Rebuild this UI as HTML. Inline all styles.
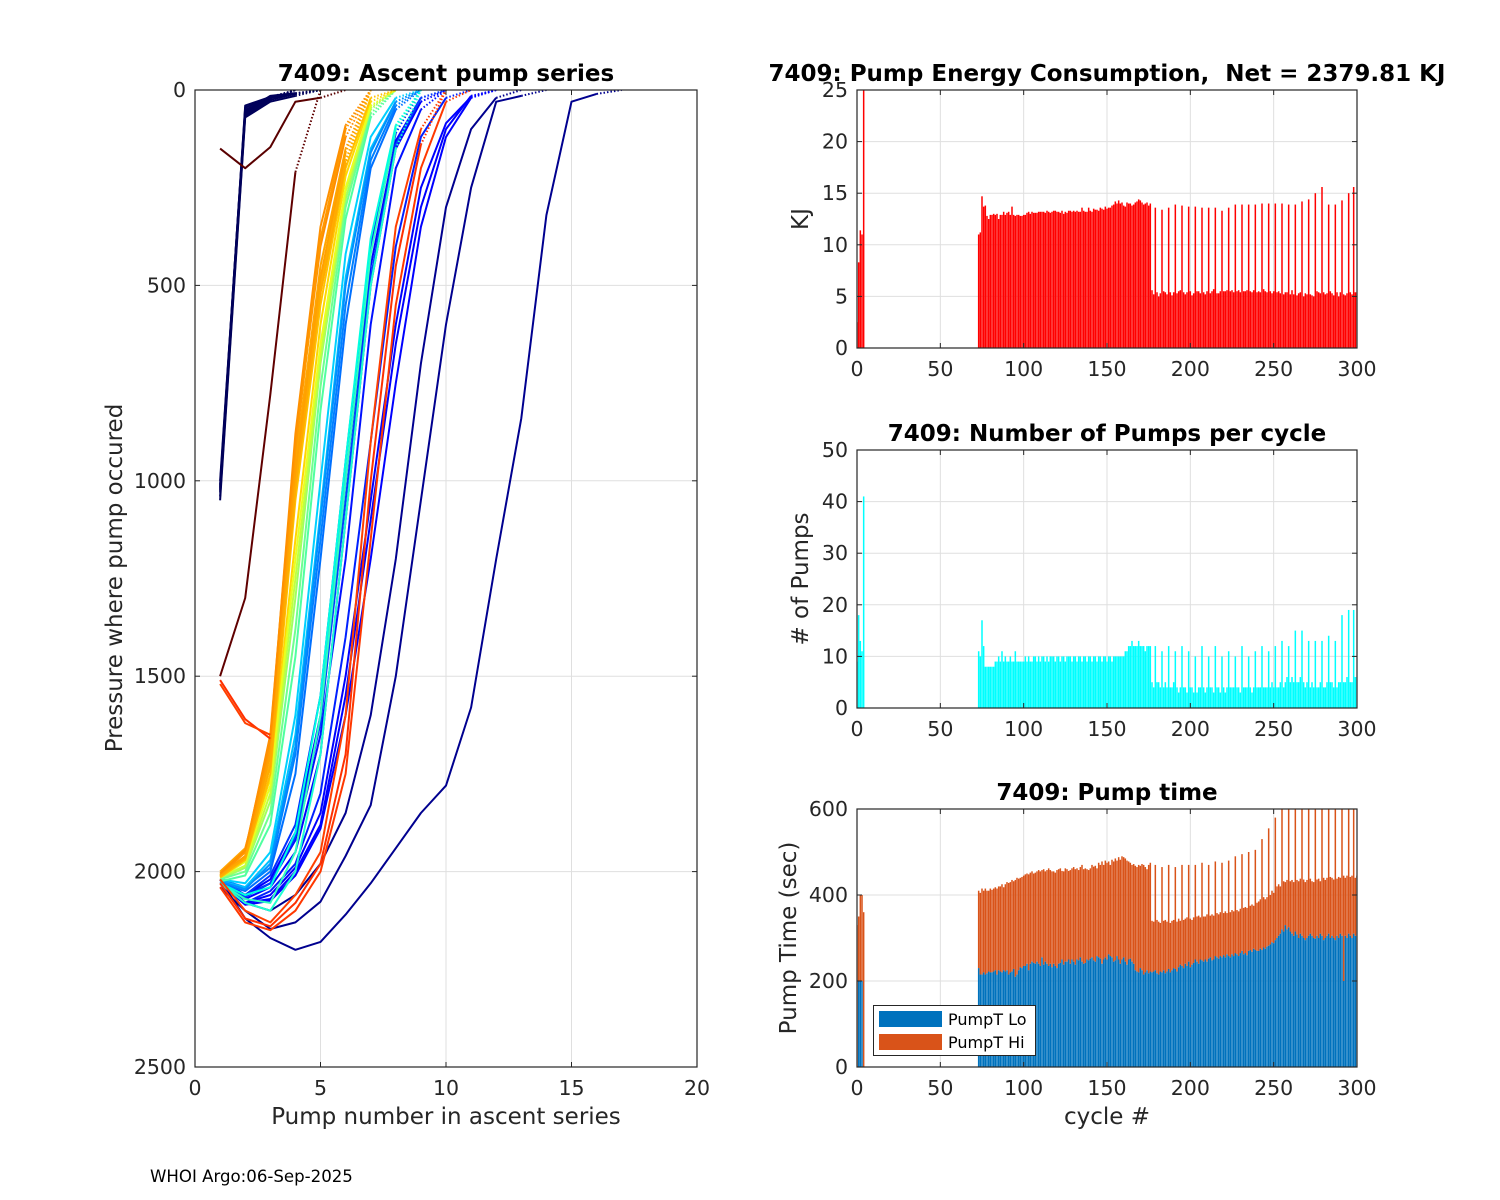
<!DOCTYPE html>
<html><head><meta charset="utf-8"><style>
html,body{margin:0;padding:0;background:#fff;}
svg{display:block;font-family:"DejaVu Sans","Liberation Sans",sans-serif;}
</style></head><body>
<svg id="fig" width="1500" height="1200" viewBox="0 0 1500 1200" xmlns="http://www.w3.org/2000/svg">
<rect x="0" y="0" width="1500" height="1200" fill="#fff"/>
<g id="ascent"></g>
<g id="energy"></g>
<g id="pumps"></g>
<g id="ptime"></g>
<text x="150" y="1182" font-size="16.6" fill="#000">WHOI Argo:06-Sep-2025</text>
</svg>
<script>
// ---------- Ascent profiles (pressure at pump 1..n, last 0 = surface, dotted) ----------
const profColors = ["#00005a","#00005a","#00005a","#00005a","#00005a","#00005a","#00005a","#00005a",
"#00008f","#00008f","#00008f",
"#0000ff","#0000ff","#0010ff","#0020ff","#0000ff","#0000ff","#0000ff","#0030ff","#0040ff",
"#0080ff","#0070ff","#00d0ff","#00c0ff","#0090ff",
"#20ffd0","#30ffc0","#00ffe0",
"#a0ff60","#70ff90","#50ffa0","#c0ff40",
"#ffd700","#e8ff20",
"#ff8c00","#ffa500","#ffb000","#ff9900","#ffc000","#ffa000","#ff9000","#ffaa00",
"#ff3000","#ff4000","#ff3800","#ff3000","#ff4000",
"#5a0000","#600000"];
const profiles = [
[1020,60,20,10,0],[1000,50,25,0],[1050,70,30,15,0],[1010,45,20,0],[1030,55,15,8,0],[1015,40,18,0],[1040,65,25,10,0],[1025,52,22,0],
[2020,2120,2170,2200,2180,2110,2030,1940,1850,1780,1580,1200,840,320,30,10,0],
[2040,2100,2147,2130,2077,1960,1830,1500,1050,600,250,30,15,0],
[2020,2080,2100,2060,1980,1850,1600,1200,700,300,100,20,0],
[2030,2060,2020,1900,1600,1000,450,130,20,0],
[2030,2070,2040,1950,1700,1100,500,150,30,0],
[2020,2060,2030,1920,1650,1200,600,200,50,0],
[2030,2080,2050,1980,1800,1400,900,400,120,20,0],
[2020,2080,2060,1990,1850,1500,1050,600,250,85,18,0],
[2030,2080,2070,2000,1880,1550,1100,650,300,100,15,0],
[2030,2085,2075,2010,1890,1600,1200,750,350,120,20,0],
[2025,2060,2010,1880,1550,950,400,110,0],
[2030,2065,2030,1910,1620,1050,480,140,20,0],
[2020,2040,1990,1700,1150,550,180,40,0],
[2030,2050,2000,1750,1200,600,200,50,0],
[2020,2030,1950,1600,1000,420,120,20,0],
[2025,2040,1970,1650,1080,480,150,30,0],
[2025,2045,1980,1680,1100,500,160,30,0],
[2030,2080,2100,2000,1700,1100,500,150,0],
[2030,2070,2080,1950,1600,1000,420,100,0],
[2030,2060,2040,1900,1550,950,380,90,0],
[2020,1990,1820,1300,700,280,50,0],
[2020,2000,1850,1380,760,300,60,0],
[2025,2010,1880,1450,820,330,70,0],
[2015,1985,1800,1250,680,260,45,0],
[2010,1970,1760,1150,600,220,30,0],
[2015,1975,1780,1200,650,250,40,0],
[2010,1950,1650,900,400,120,0],
[2000,1940,1700,950,450,150,0],
[2010,1960,1720,1000,500,180,0],
[2005,1950,1680,920,380,100,0],
[2015,1970,1750,1050,550,200,20,0],
[2010,1960,1700,980,480,160,0],
[2005,1945,1660,880,350,90,0],
[2012,1965,1730,1020,520,190,0],
[2030,2120,2140,2080,1980,1700,1000,450,140,0],
[2020,2100,2130,2060,1950,1600,900,350,100,0],
[2040,2130,2150,2100,2000,1750,1150,550,200,30,0],
[1510,1610,1660],
[1520,1620,1650],
[150,200,146,30,20,0],
[1500,1300,780,210,0]
];
// ---------- Cycle data ----------
const energy = [2.5,8.3,11.4,11.0,25,
11.0,11.2,14.7,13.7,13.8,
12.8,12.5,12.9,12.9,13.0,12.9,13.0,12.5,12.9,12.9,
13.2,12.9,13.1,13.2,12.9,13.7,12.9,12.8,12.9,12.9,
12.8,12.8,12.9,12.9,13.1,13.2,13.0,13.2,13.1,13.1,
13.1,13.2,13.2,13.2,13.2,13.1,13.3,13.2,13.1,13.2,
13.3,13.3,13.2,13.2,13.1,13.3,13.0,13.2,13.1,13.3,
13.3,13.2,13.3,13.2,13.3,13.2,13.2,13.6,13.3,13.2,
13.2,13.6,13.3,13.2,13.5,13.4,13.4,13.3,13.6,13.5,
13.4,13.7,13.5,13.6,13.6,13.8,13.9,14.2,14.0,14.3,
14.0,14.1,13.8,13.7,14.1,14.0,14.0,13.8,13.9,14.1,
14.2,14.4,14.3,14.1,13.9,14.0,14.1,13.8,14.0,
5.6,5.2,13.6,5.4, 5.0,5.3,13.4,5.5, 5.4,5.2,13.6,5.4, 5.1,5.4,13.9,5.3,
5.5,5.6,13.8,5.4, 5.2,5.4,13.7,5.5, 5.1,5.3,13.7,5.5, 5.5,5.3,13.6,5.4,
5.2,5.5,13.6,5.3, 5.5,5.7,13.6,5.3, 5.3,5.5,13.3,5.5, 5.5,5.6,13.6,5.5,
5.6,5.4,13.9,5.5, 5.6,5.4,13.9,5.5, 5.5,5.6,13.9,5.5, 5.4,5.6,13.9,5.4,
5.5,5.4,14.0,5.7, 5.5,5.4,14.0,5.5, 5.3,5.5,14.0,5.4, 5.5,5.3,14.0,5.2,
5.4,5.4,13.9,5.2, 5.6,5.2,13.9,5.1, 5.3,5.4,14.2,5.0, 5.3,5.2,14.4,5.2,
5.1,5.0,15.0,5.5, 5.4,5.3,15.6,5.4, 5.2,5.3,13.9,5.5, 5.3,5.1,13.9,5.4,
5.0,5.4,14.3,5.2, 5.1,5.3,15.0,5.4, 5.2,15.6,5.4,5.4];
const pumpsN = [9,18,13,11,41,
11,10,17,12,8,
8,8,8,8,8,9,9,10,9,11,
9,10,9,9,10,9,9,11,9,9,
9,9,9,10,9,10,9,9,10,10,
9,10,9,10,10,9,10,9,10,10,
10,9,10,10,9,10,10,9,10,10,
10,9,10,10,9,10,10,9,10,10,
9,10,10,9,10,10,9,10,10,9,
10,10,9,10,10,9,10,10,10,10,
10,10,10,11,11,12,12,13,12,12,
12,13,12,12,12,11,12,12,12,
5,4,12,5, 5,4,11,4, 5,4,12,4, 4,5,11,4, 3,4,12,4, 4,3,11,4, 4,3,10,3, 4,4,12,4,
3,4,10,4, 4,3,12,4, 4,3,10,4, 3,4,11,4, 4,4,10,4, 4,3,12,4, 4,4,10,4, 3,4,11,4,
4,4,12,4, 4,4,11,4, 5,4,12,4, 4,5,13,4, 5,6,12,5, 6,5,15,5, 5,6,15,5, 4,5,13,4,
5,4,13,4, 4,5,13,4, 4,5,14,5, 5,4,13,4, 5,5,18,5, 5,6,19,5, 5,19,6,6];
const timeLo = [0,200,200,200,0,
230,215,215,220,215,
218,222,220,220,222,225,215,225,222,220,
225,222,225,215,220,222,228,210,215,225,
232,230,235,235,240,225,240,245,242,240,
245,240,235,255,238,245,240,235,240,232,
240,235,230,240,242,250,238,245,245,250,
240,250,245,238,250,248,255,245,240,242,
250,248,252,255,248,245,258,255,252,240,
250,255,250,262,258,255,245,248,258,250,
240,250,255,245,238,250,252,245,240,225,
222,220,230,225,215,220,225,218,222,
220,222,225,218, 215,222,220,225, 218,222,228,220, 225,230,228,222,
232,238,235,230, 240,235,245,232, 238,242,250,245, 240,250,248,245,
250,245,252,255, 248,250,258,255, 252,258,255,260, 255,262,258,255,
262,258,265,262, 258,265,270,262, 265,260,270,272, 268,275,272,270,
270,275,272,278, 275,280,282,285, 290,288,295,300, 305,310,320,315,
330,320,325,315, 310,305,315,308, 300,310,305,300, 295,300,305,310,
305,300,298,305, 300,310,305,295, 300,305,310,300, 305,300,295,305,
300,310,305,200, 305,300,310,305, 300,310,305,305];
const timeTot = [330,350,400,400,360,
410,405,415,410,415,
410,410,415,412,415,418,415,420,420,425,
418,425,430,428,430,435,432,435,440,438,
440,442,445,448,450,448,452,455,450,452,
455,458,455,458,460,455,458,462,458,455,
455,452,458,460,462,456,455,462,460,456,
458,462,465,460,462,458,465,470,460,462,
460,458,462,470,466,468,462,475,470,478,
470,480,475,478,470,482,478,485,480,488,
482,490,488,485,480,478,475,470,472,468,
465,470,468,472,470,465,460,470,475,
340,338,470,342, 338,335,465,340, 342,338,470,335, 340,342,465,338,
345,340,470,342, 345,348,470,345, 342,348,470,350, 352,348,475,350,
350,355,470,352, 355,352,478,358, 355,360,475,358, 362,358,480,360,
365,362,490,365, 362,368,495,370, 372,370,500,375, 378,375,505,382,
385,390,530,395, 390,395,555,400, 410,405,580,420, 425,420,600,432,
430,435,600,432, 435,430,600,435, 432,438,600,436, 430,435,600,438,
432,430,600,436, 438,432,600,440, 435,440,600,442, 440,436,600,438,
442,440,600,445, 440,445,600,442, 445,600,440,445];
const cycles = [0,1,2,3,4];
for (let c = 73; c <= 300; c++) cycles.push(c);

const NS = "http://www.w3.org/2000/svg";
function mk(tag, attrs, parent, txt) {
  const e = document.createElementNS(NS, tag);
  for (const k in attrs) e.setAttribute(k, attrs[k]);
  if (txt !== undefined) e.textContent = txt;
  parent.appendChild(e);
  return e;
}
const AX = "#262626", GRID = "#dfdfdf";
const TICK_FS = 20.5, LAB_FS = 23, TTL_FS = 23;

function axesFrame(g, x0, y0, x1, y1, xticks, xfn, yticks, yfn) {
  xticks.forEach(t => { const x = xfn(t);
    const l = mk("line", {x1:x, x2:x, y1:y0, y2:y1, stroke:GRID, "stroke-width":1}, g);
    
     });
  yticks.forEach(t => { const y = yfn(t);
    const l = mk("line", {x1:x0, x2:x1, y1:y, y2:y, stroke:GRID, "stroke-width":1}, g);
    
     });
}
function axesBox(g, x0, y0, x1, y1, xticks, xfn, yticks, yfn) {
  const b = mk("rect", {x:x0, y:y0, width:x1-x0, height:y1-y0, fill:"none", stroke:AX, "stroke-width":1.2}, g);
  
  
  xticks.forEach(t => { const x = xfn(t);
    mk("line", {x1:x, x2:x, y1:y1, y2:y1-5, stroke:AX}, g);
    mk("line", {x1:x, x2:x, y1:y0, y2:y0+5, stroke:AX}, g);
    const tx = mk("text", {x:x, y:y1+28, "font-size":TICK_FS, fill:AX, "text-anchor":"middle"}, g, String(t));
    
     });
  yticks.forEach(t => { const y = yfn(t);
    mk("line", {x1:x0, x2:x0+5, y1:y, y2:y, stroke:AX}, g);
    mk("line", {x1:x1, x2:x1-5, y1:y, y2:y, stroke:AX}, g);
    const tx = mk("text", {x:x0-9, y:y+7, "font-size":TICK_FS, fill:AX, "text-anchor":"end"}, g, String(t));
    
     });
}
function title(g, x, y, s, name) {
  const t = mk("text", {x:x, y:y, "font-size":TTL_FS, "font-weight":"bold", fill:"#000", "text-anchor":"middle"}, g, s);
  
  
}
function ylabel(g, x, y, s, name) {
  const t = mk("text", {x:x, y:y, "font-size":LAB_FS, fill:AX, "text-anchor":"middle", transform:"rotate(-90 "+x+" "+y+")"}, g, s);
  
  
}
function xlabel(g, x, y, s, name) {
  const t = mk("text", {x:x, y:y, "font-size":LAB_FS, fill:AX, "text-anchor":"middle"}, g, s);
  
  
}

// ---------- Left chart ----------
(function(){
  const g = document.getElementById("ascent");
  const X0=195, X1=697, Y0=90, Y1=1067;
  const xs = v => X0 + v*(X1-X0)/20;
  const ys = p => Y0 + p*(Y1-Y0)/2500;
  const xt=[0,5,10,15,20], yt=[0,500,1000,1500,2000,2500];
  axesFrame(g,X0,Y0,X1,Y1,xt,xs,yt,ys);
  const clip = mk("clipPath",{id:"clipL"},g);
  mk("rect",{x:X0,y:Y0,width:X1-X0,height:Y1-Y0},clip);
  const lg = mk("g",{"clip-path":"url(#clipL)"},g);
  profiles.forEach((pr,i) => {
    const n = pr.length;
    const endsSurface = pr[n-1] === 0 && n > 1;
    const solidN = endsSurface ? n-1 : n;
    let d = "";
    for (let k=0;k<solidN;k++) d += (k?"L":"M") + xs(k+1).toFixed(1) + " " + ys(pr[k]).toFixed(1);
    const ln = mk("path",{d:d, fill:"none", stroke:profColors[i], "stroke-width":2, "stroke-linejoin":"round"}, lg);
    
    
    if (endsSurface) {
      const dl = mk("line",{x1:xs(n-1), y1:ys(pr[n-2]), x2:xs(n), y2:ys(0), stroke:profColors[i], "stroke-width":2, "stroke-dasharray":"1.5 2"}, lg);
      
      
    }
  });
  axesBox(g,X0,Y0,X1,Y1,xt,xs,yt,ys);
  title(g,446,81,"7409: Ascent pump series","ascent-title");
  xlabel(g,446,1124,"Pump number in ascent series","ascent-x-axis-title");
  ylabel(g,122,578,"Pressure where pump occured","ascent-y-axis-title");
})();

// ---------- Right charts ----------
const RX0=857, RX1=1357;
const rx = c => RX0 + c*(RX1-RX0)/300;
const xtR=[0,50,100,150,200,250,300];
const BW = 1.5;

function barPanel(id, Y0, Y1, ymax, yt, vals, color, ttl, tname, ylab, yname, clipId) {
  const g = document.getElementById(id);
  const ys = v => Y1 - v*(Y1-Y0)/ymax;
  axesFrame(g,RX0,Y0,RX1,Y1,xtR,rx,yt,ys);
  const clip = mk("clipPath",{id:clipId},g);
  mk("rect",{x:RX0,y:Y0,width:RX1-RX0,height:Y1-Y0},clip);
  const bg = mk("g",{"clip-path":"url(#"+clipId+")"},g);
  cycles.forEach((c,i) => { const v = vals[i]; if (!v) return;
    const r = mk("rect",{x:(rx(c)-BW/2).toFixed(2), y:ys(v).toFixed(2), width:BW, height:(Y1-ys(v)).toFixed(2), fill:color}, bg);
    
     });
  axesBox(g,RX0,Y0,RX1,Y1,xtR,rx,yt,ys);
  title(g,1107,Y0-9,ttl,tname);
  ylabel(g,808,(Y0+Y1)/2,ylab,yname);
  return {g, ys};
}
barPanel("energy",90,348,25,[0,5,10,15,20,25],energy,"#ff0000","7409: Pump Energy Consumption,\u00a0\u00a0Net = 2379.81 KJ","energy-title","KJ","energy-y-axis-title","clipE");
barPanel("pumps",450,708,50,[0,10,20,30,40,50],pumpsN,"#00ffff","7409: Number of Pumps per cycle","pumps-title","# of Pumps","pumps-y-axis-title","clipP");

(function(){
  const g = document.getElementById("ptime");
  const Y0=809, Y1=1067;
  const ys = v => Y1 - v*(Y1-Y0)/600;
  const yt=[0,200,400,600];
  axesFrame(g,RX0,Y0,RX1,Y1,xtR,rx,yt,ys);
  const clip = mk("clipPath",{id:"clipT"},g);
  mk("rect",{x:RX0,y:Y0,width:RX1-RX0,height:Y1-Y0},clip);
  const bg = mk("g",{"clip-path":"url(#clipT)"},g);
  cycles.forEach((c,i) => {
    const lo = timeLo[i], tot = timeTot[i];
    if (tot > lo) {
      const r = mk("rect",{x:(rx(c)-BW/2).toFixed(2), y:ys(tot).toFixed(2), width:BW, height:(ys(lo)-ys(tot)).toFixed(2), fill:"#d95319"}, bg);
      
      
    }
    if (lo > 0) {
      const r = mk("rect",{x:(rx(c)-BW/2).toFixed(2), y:ys(lo).toFixed(2), width:BW, height:(Y1-ys(lo)).toFixed(2), fill:"#0072bd"}, bg);
      
      
    }
  });
  axesBox(g,RX0,Y0,RX1,Y1,xtR,rx,yt,ys);
  title(g,1107,Y0-9,"7409: Pump time","ptime-title");
  ylabel(g,796,938,"Pump Time (sec)","ptime-y-axis-title");
  xlabel(g,1107,1124,"cycle #","cycle-x-axis-title");
  const lgd = mk("g",{},g);
  
  
  mk("rect",{x:873.5,y:1005.5,width:162,height:50,fill:"#fff",stroke:AX,"stroke-width":1},lgd);
  const e1 = mk("g",{},lgd);
  
  
  mk("rect",{x:879,y:1011,width:63,height:16,fill:"#0072bd"},e1);
  mk("text",{x:948,y:1025,"font-size":16,fill:"#000"},e1,"PumpT Lo");
  const e2 = mk("g",{},lgd);
  
  
  mk("rect",{x:879,y:1034,width:63,height:16,fill:"#d95319"},e2);
  mk("text",{x:948,y:1048,"font-size":16,fill:"#000"},e2,"PumpT Hi");
})();
</script>
</body></html>
